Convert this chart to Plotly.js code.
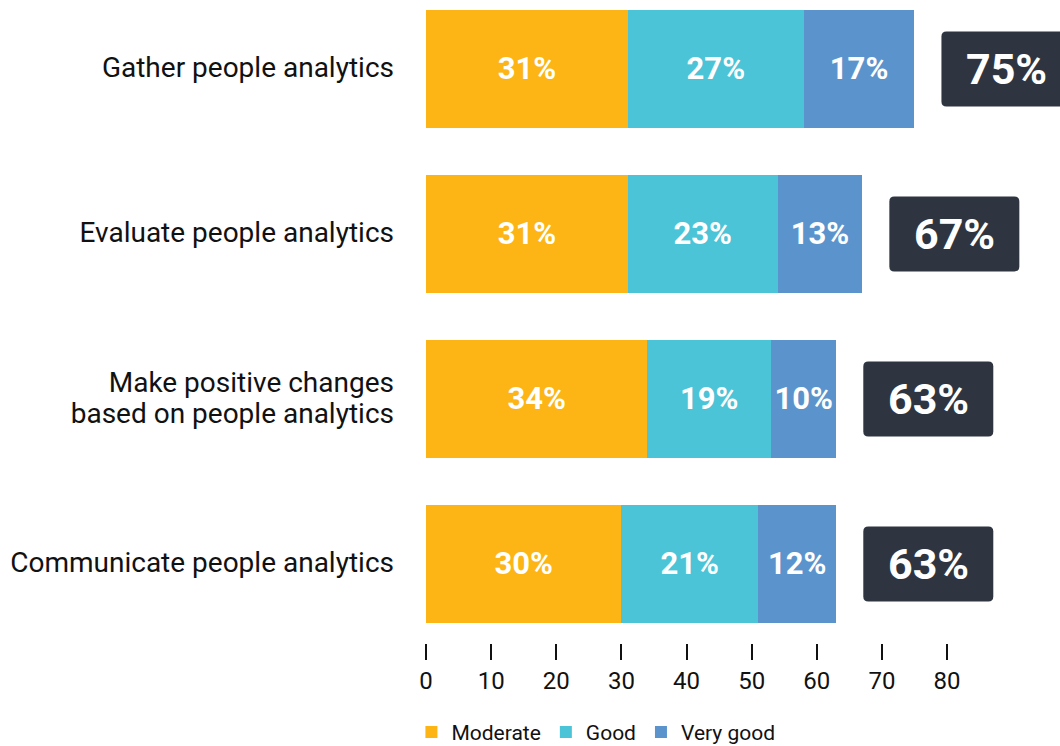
<!DOCTYPE html>
<html>
<head>
<meta charset="utf-8">
<script src="https://cdn.plot.ly/plotly-3.0.1.min.js"></script>
<style>html,body{margin:0;padding:0;background:#fff;}#chart{width:1060px;height:746px;}</style>
</head>
<body>
<div id="chart"></div>
<script>
const categories = ["Gather people analytics", "Evaluate people analytics", "Make positive changes<br>based on people analytics", "Communicate people analytics"];
const moderate = [31, 31, 34, 30];
const good = [27, 23, 19, 21];
const veryGood = [17, 13, 10, 12];
const totals = [75, 67, 63, 63];
const seriesNames = ["Moderate", "Good", "Very good"];
const tickValues = [0, 10, 20, 30, 40, 50, 60, 70, 80];

const colors = ["#FDB515", "#4BC4D7", "#5B94CD"];
const series = [moderate, good, veryGood];
const FONT = "Roboto, 'Noto Sans', sans-serif";

const traces = series.map((vals, i) => ({
  type: "bar",
  orientation: "h",
  name: seriesNames[i],
  x: vals,
  y: categories,
  marker: {color: colors[i], line: {width: 0}},
  texttemplate: "%{x}%",
  textposition: "inside",
  insidetextanchor: "middle",
  textangle: 0,
  constraintext: "none",
  textfont: {family: FONT, size: 31, color: "#ffffff", weight: 700},
  hoverinfo: "skip"
}));

const boxPath = "M 32,-37.5 H 152 Q 157,-37.5 157,-32.5 V 32.5 Q 157,37.5 152,37.5 H 32 Q 27,37.5 27,32.5 V -32.5 Q 27,-37.5 32,-37.5 Z";

const shapes = totals.map((t, i) => ({
  type: "path",
  xref: "x", yref: "y",
  xsizemode: "pixel", ysizemode: "pixel",
  xanchor: t, yanchor: categories[i],
  path: boxPath,
  fillcolor: "#2E3541",
  line: {width: 0},
  layer: "above"
}));

const annotations = totals.map((t, i) => ({
  x: t, y: categories[i],
  xref: "x", yref: "y",
  xshift: 92,
  xanchor: "center", yanchor: "middle",
  text: t + "%",
  showarrow: false,
  font: {family: FONT, size: 43, color: "#ffffff", weight: 700}
}));

// larger glyphs with tighter line spacing (line spacing follows base font size)
const tickTexts = categories.map(c => '<span style="font-size:28px">' + c + '</span>');

const layout = {
  width: 1060, height: 746,
  margin: {l: 426, r: 0, t: 0, b: 103, pad: 0, autoexpand: false},
  paper_bgcolor: "#ffffff",
  plot_bgcolor: "#ffffff",
  barmode: "stack",
  bargap: 0.285,
  font: {family: FONT, color: "#111111"},
  xaxis: {
    range: [0, 97.35],
    tickvals: tickValues,
    ticks: "outside",
    ticklen: 16,
    tickwidth: 2,
    tickcolor: "#111111",
    showgrid: false,
    zeroline: false,
    showline: false,
    tickfont: {family: FONT, size: 24, color: "#111111"},
    fixedrange: true
  },
  yaxis: {
    type: "category",
    range: [3.479, -0.418],
    tickmode: "array",
    tickvals: categories,
    ticktext: tickTexts,
    showgrid: false,
    zeroline: false,
    showline: false,
    ticks: "",
    ticklabelstandoff: 31,
    tickfont: {family: FONT, size: 24, color: "#111111"},
    fixedrange: true
  },
  showlegend: true,
  legend: {
    orientation: "h",
    x: -0.023, xanchor: "left",
    y: -0.107, yanchor: "top",
    font: {family: FONT, size: 21, color: "#111111"},
    traceorder: "normal",
    bgcolor: "rgba(0,0,0,0)"
  },
  shapes: shapes,
  annotations: annotations
};

Plotly.newPlot("chart", traces, layout, {displayModeBar: false, staticPlot: true});
</script>
</body>
</html>
